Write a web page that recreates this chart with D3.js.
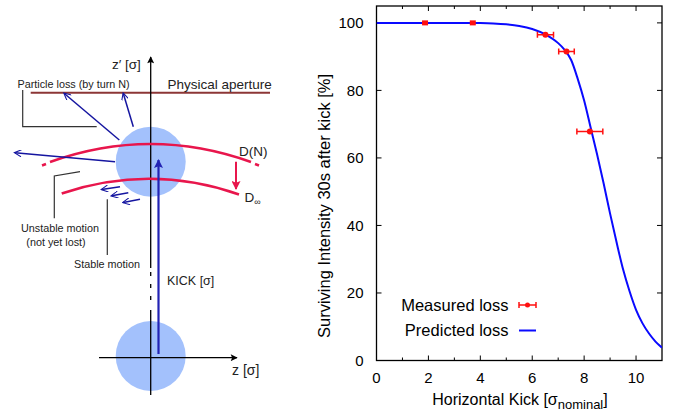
<!DOCTYPE html>
<html>
<head>
<meta charset="utf-8">
<script src="https://cdn.jsdelivr.net/npm/d3@7"></script>
<style>
  body { margin: 0; background: #fff; }
  svg { font-family: "Liberation Sans", Arial, sans-serif; }
</style>
</head>
<body>
<div id="chart"></div>
<script>
// Measured points (kick in sigma, surviving intensity %, x error)
const measuredKick = [1.87, 3.71, 6.51, 7.32, 8.22];
const measuredSurv = [100, 100, 96.5, 91.5, 67.8];
const measuredErr = [0, 0, 0.31, 0.3, 0.5];

// Predicted loss curve
const predKick = [0, 1, 2, 3, 4, 4.5, 5, 5.5, 6, 6.5, 7, 7.25, 7.5, 7.75, 8, 8.25, 8.5, 8.75, 9, 9.25, 9.5, 9.75, 10, 10.25, 10.5, 10.75, 11];
const predSurv = [100, 100, 100, 100, 99.95, 99.85, 99.6, 99.1, 98.2, 96.6, 94, 92, 89, 83.5, 77, 69, 61, 52.5, 43.5, 35, 27, 20.5, 15, 11, 8, 5.6, 3.8];

const xTicks = [0, 2, 4, 6, 8, 10];
const xMinor = [1, 3, 5, 7, 9];
const yTicks = [0, 20, 40, 60, 80, 100];

const width = 677;
const height = 418;

const svg = d3.select("#chart")
    .append("svg")
    .attr("width", width)
    .attr("height", height);

// ---------- left: schematic ----------
const defs = svg.append("defs");
function marker(id, color, w, h, filled) {
    const m = defs.append("marker")
        .attr("id", id)
        .attr("viewBox", "0 0 10 10")
        .attr("refX", 9).attr("refY", 5)
        .attr("markerUnits", "userSpaceOnUse")
        .attr("markerWidth", w).attr("markerHeight", h)
        .attr("orient", "auto");
    if (filled) {
        m.append("path").attr("d", "M0,0L10,5L0,10L2,5Z").attr("fill", color);
    } else {
        m.append("path").attr("d", "M0,0L10,5L0,10").attr("fill", "none")
            .attr("stroke", color).attr("stroke-width", 1.5);
    }
}
marker("arBlack", "#000", 12, 7, true);
marker("arBlue", "#1515a0", 9, 7, false);
marker("arKick", "#2323b4", 12, 9, true);
marker("arRed", "#e8164c", 10, 9, true);

const dia = svg.append("g");
const cx = 150.7;

// beam circles
dia.append("circle").attr("cx", cx).attr("cy", 161.7).attr("r", 35).attr("fill", "#a3c1fc");
dia.append("circle").attr("cx", cx).attr("cy", 356).attr("r", 35).attr("fill", "#a3c1fc");

// physical aperture
dia.append("line").attr("x1", 30.7).attr("x2", 270).attr("y1", 92.7).attr("y2", 92.7)
    .attr("stroke", "#8c3636").attr("stroke-width", 2);

// axes
dia.append("line").attr("x1", cx).attr("x2", cx).attr("y1", 268).attr("y2", 57)
    .attr("stroke", "#000").attr("stroke-width", 1.3).attr("marker-end", "url(#arBlack)");
dia.append("line").attr("x1", cx).attr("x2", cx).attr("y1", 272).attr("y2", 306)
    .attr("stroke", "#000").attr("stroke-width", 1.3).attr("stroke-dasharray", "4,8");
dia.append("line").attr("x1", cx).attr("x2", cx).attr("y1", 310).attr("y2", 395)
    .attr("stroke", "#000").attr("stroke-width", 1.3);
dia.append("line").attr("x1", 99).attr("x2", 237).attr("y1", 357.7).attr("y2", 357.7)
    .attr("stroke", "#000").attr("stroke-width", 1.3).attr("marker-end", "url(#arBlack)");

// D(N) and D_inf arcs
dia.append("path").attr("d", "M50,162 Q150.7,126 251,162")
    .attr("fill", "none").attr("stroke", "#e8164c").attr("stroke-width", 2.5);
dia.append("path").attr("d", "M42,165.5 L46,164").attr("stroke", "#e8164c").attr("stroke-width", 2.5);
dia.append("path").attr("d", "M255,164 L259,165.5").attr("stroke", "#e8164c").attr("stroke-width", 2.5);
dia.append("path").attr("d", "M61.7,193.5 Q150.7,163.6 239,194.5")
    .attr("fill", "none").attr("stroke", "#e8164c").attr("stroke-width", 2.5);
dia.append("line").attr("x1", 236).attr("x2", 236).attr("y1", 161.7).attr("y2", 189)
    .attr("stroke", "#e8164c").attr("stroke-width", 2).attr("marker-end", "url(#arRed)");

// blue particle arrows
const blueArrows = [
    [119.3, 140, 64.3, 93.5],
    [133.3, 126.7, 123.3, 93.5],
    [115, 161.7, 15, 152.7],
    [120, 186.7, 101.7, 189.5],
    [128.3, 192.7, 111.7, 195.8],
    [140, 199.3, 123.3, 202.5]
];
dia.selectAll(".barrow").data(blueArrows).enter().append("line")
    .attr("x1", d => d[0]).attr("y1", d => d[1]).attr("x2", d => d[2]).attr("y2", d => d[3])
    .attr("stroke", "#1515a0").attr("stroke-width", 1.5).attr("marker-end", "url(#arBlue)");

// kick arrow
dia.append("line").attr("x1", 158.5).attr("x2", 158.5).attr("y1", 354).attr("y2", 160)
    .attr("stroke", "#2323b4").attr("stroke-width", 2.2).attr("marker-end", "url(#arKick)");

// leader lines
dia.append("path").attr("d", "M22.7,90 V126.7 H96.7").attr("fill", "none").attr("stroke", "#333").attr("stroke-width", 1.2);
dia.append("path").attr("d", "M80,171.7 L54.3,176 V218.3").attr("fill", "none").attr("stroke", "#333").attr("stroke-width", 1.2);
dia.append("path").attr("d", "M107.3,199.3 V255").attr("fill", "none").attr("stroke", "#333").attr("stroke-width", 1.2);

// labels
const lab = (x, y, t, s, anchor) => dia.append("text").attr("x", x).attr("y", y)
    .attr("font-size", s).attr("fill", "#222").attr("text-anchor", anchor || "start").text(t);
lab(112, 69, "z′ [σ]", 13.5);
lab(167.5, 89, "Physical aperture", 13.5);
lab(17.5, 88, "Particle loss (by turn N)", 10.8);
lab(239, 156, "D(N)", 13.5);
const dinf = lab(244.5, 202, "D", 13.5);
dinf.append("tspan").attr("font-size", 9).attr("dy", 3).text("∞");
lab(60, 232, "Unstable motion", 10.8, "middle");
lab(56, 245.5, "(not yet lost)", 10.8, "middle");
lab(107, 268, "Stable motion", 10.8, "middle");
lab(167, 285, "KICK [σ]", 12.5);
lab(232, 375, "z [σ]", 14);

// ---------- right: plot ----------
const x = d3.scaleLinear().domain([0, 11]).range([376.5, 662]);
const y = d3.scaleLinear().domain([0, 105]).range([360.5, 6]);

const plot = svg.append("g");

// ticks (inward, all four sides)
const tickLen = 5, minorLen = 3;
plot.selectAll(".xt").data(xTicks.concat(xMinor)).enter().append("path")
    .attr("d", d => {
        const l = xTicks.includes(d) ? tickLen : minorLen;
        return `M${x(d)},${y(0)}v${-l}M${x(d)},${y(105)}v${l}`;
    })
    .attr("stroke", "#000").attr("stroke-width", 1);
plot.selectAll(".yt").data(yTicks).enter().append("path")
    .attr("d", d => `M${x(0)},${y(d)}h${tickLen}M${x(11)},${y(d)}h${-tickLen}`)
    .attr("stroke", "#000").attr("stroke-width", 1);

// frame
plot.append("rect").attr("x", x(0)).attr("y", y(105))
    .attr("width", x(11) - x(0)).attr("height", y(0) - y(105))
    .attr("fill", "none").attr("stroke", "#000").attr("stroke-width", 1.3);

// tick labels
plot.selectAll(".xl").data(xTicks).enter().append("text")
    .attr("x", d => x(d)).attr("y", 383).attr("text-anchor", "middle")
    .attr("font-size", 15).text(d => d);
plot.selectAll(".yl").data(yTicks).enter().append("text")
    .attr("x", 363.5).attr("y", d => y(d) + 5.5).attr("text-anchor", "end")
    .attr("font-size", 15).text(d => d);

// axis titles
const xt = plot.append("text").attr("x", 520).attr("y", 405).attr("text-anchor", "middle")
    .attr("font-size", 16).text("Horizontal Kick [σ");
xt.append("tspan").attr("font-size", 13).attr("dy", 4).text("nominal");
xt.append("tspan").attr("dy", -4).text("]");
plot.append("text").attr("transform", "translate(330,206) rotate(-90)")
    .attr("text-anchor", "middle").attr("font-size", 16.5)
    .text("Surviving Intensity 30s after kick [%]");

// predicted curve
const line = d3.line().x(d => x(d[0])).y(d => y(d[1])).curve(d3.curveMonotoneX);
const clip = defs.append("clipPath").attr("id", "plotclip");
clip.append("rect").attr("x", x(0)).attr("y", y(105)).attr("width", x(11) - x(0)).attr("height", y(0) - y(105));
plot.append("path")
    .datum(predKick.map((k, i) => [k, predSurv[i]]))
    .attr("d", line)
    .attr("clip-path", "url(#plotclip)")
    .attr("fill", "none").attr("stroke", "#0a0aff").attr("stroke-width", 2);

// measured points with error bars
const meas = measuredKick.map((k, i) => ({ k: k, s: measuredSurv[i], e: measuredErr[i] }));
const mg = plot.selectAll(".meas").data(meas).enter().append("g").attr("stroke", "#ff1010").attr("fill", "#ff1010");
mg.filter(d => d.e > 0).append("path")
    .attr("d", d => `M${x(d.k - d.e)},${y(d.s)}H${x(d.k + d.e)}M${x(d.k - d.e)},${y(d.s) - 3}v6M${x(d.k + d.e)},${y(d.s) - 3}v6`)
    .attr("stroke-width", 1.5).attr("fill", "none");
mg.filter(d => d.e === 0).append("rect")
    .attr("x", d => x(d.k) - 3).attr("y", d => y(d.s) - 2.5).attr("width", 6).attr("height", 5).attr("stroke", "none");
mg.filter(d => d.e > 0).append("circle")
    .attr("cx", d => x(d.k)).attr("cy", d => y(d.s)).attr("r", 3).attr("stroke", "none");

// legend
const lg = plot.append("g");
lg.append("text").attr("x", 508.5).attr("y", 311).attr("text-anchor", "end").attr("font-size", 16.5).text("Measured loss");
lg.append("text").attr("x", 508.5).attr("y", 336).attr("text-anchor", "end").attr("font-size", 16.5).text("Predicted loss");
lg.append("path").attr("d", "M519,305H536M519,302v6M536,302v6").attr("stroke", "#ff1010").attr("stroke-width", 1.5).attr("fill", "none");
lg.append("circle").attr("cx", 527.5).attr("cy", 305).attr("r", 2.5).attr("fill", "#ff1010");
lg.append("line").attr("x1", 519).attr("x2", 536).attr("y1", 330.5).attr("y2", 330.5).attr("stroke", "#0a0aff").attr("stroke-width", 2);
</script>
</body>
</html>
